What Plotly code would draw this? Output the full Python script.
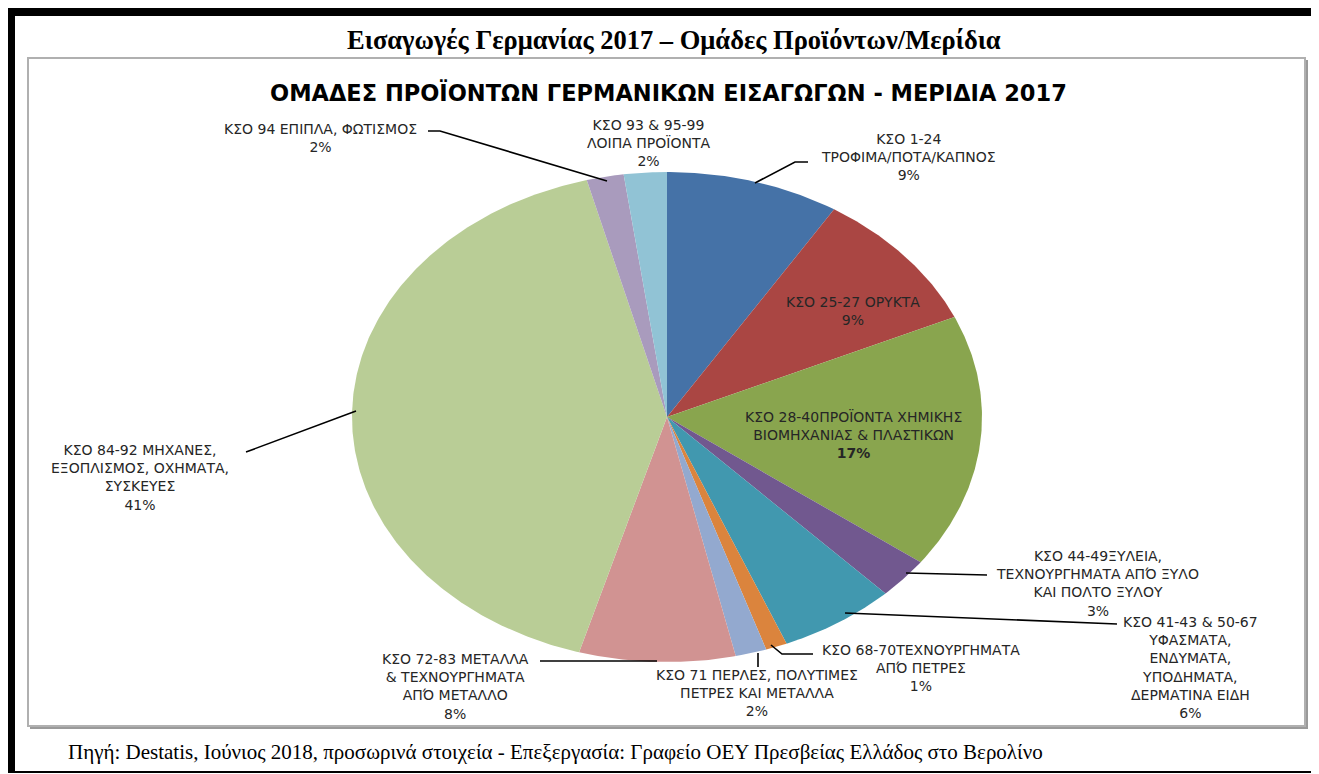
import math
import plotly.graph_objects as go

W, H = 1319, 774
OFF = 8          # page body margin added by the browser
FW, FH = W - OFF, H - OFF

# ---------------- data ----------------
categories = [
    "ΚΣΟ 1-24<br>ΤΡΟΦΙΜΑ/ΠΟΤΑ/ΚΑΠΝΟΣ",
    "ΚΣΟ 25-27 ΟΡΥΚΤΑ",
    "ΚΣΟ 28-40ΠΡΟΪΟΝΤΑ ΧΗΜΙΚΗΣ<br>ΒΙΟΜΗΧΑΝΙΑΣ & ΠΛΑΣΤΙΚΩΝ",
    "ΚΣΟ 44-49ΞΥΛΕΙΑ,<br>ΤΕΧΝΟΥΡΓΗΜΑΤΑ ΑΠΌ ΞΥΛΟ<br>ΚΑΙ ΠΟΛΤΟ ΞΥΛΟΥ",
    "ΚΣΟ 41-43 & 50-67<br>ΥΦΑΣΜΑΤΑ,<br>ΕΝΔΥΜΑΤΑ,<br>ΥΠΟΔΗΜΑΤΑ,<br>ΔΕΡΜΑΤΙΝΑ ΕΙΔΗ",
    "ΚΣΟ 68-70ΤΕΧΝΟΥΡΓΗΜΑΤΑ<br>ΑΠΌ ΠΕΤΡΕΣ",
    "ΚΣΟ 71 ΠΕΡΛΕΣ, ΠΟΛΥΤΙΜΕΣ<br>ΠΕΤΡΕΣ ΚΑΙ ΜΕΤΑΛΛΑ",
    "ΚΣΟ 72-83 ΜΕΤΑΛΛΑ<br>& ΤΕΧΝΟΥΡΓΗΜΑΤΑ<br>ΑΠΌ ΜΕΤΑΛΛΟ",
    "ΚΣΟ 84-92 ΜΗΧΑΝΕΣ,<br>ΕΞΟΠΛΙΣΜΟΣ, ΟΧΗΜΑΤΑ,<br>ΣΥΣΚΕΥΕΣ",
    "ΚΣΟ 94 ΕΠΙΠΛΑ, ΦΩΤΙΣΜΟΣ",
    "ΚΣΟ 93 & 95-99<br>ΛΟΙΠΑ ΠΡΟΪΟΝΤΑ",
]
values = [8.9, 9.4, 16.8, 2.7, 6.0, 1.1, 1.6, 8.0, 41.4, 1.9, 2.2]
colors = ["#4572A7", "#AA4643", "#89A54E", "#71588F", "#4198AF", "#DB843D",
          "#93A9CF", "#D19392", "#B9CD96", "#A99BBD", "#91C3D5"]

title_doc = "Εισαγωγές Γερμανίας 2017 – Ομάδες Προϊόντων/Μερίδια"
title_chart = "ΟΜΑΔΕΣ ΠΡΟΪΟΝΤΩΝ ΓΕΡΜΑΝΙΚΩΝ ΕΙΣΑΓΩΓΩΝ - ΜΕΡΙΔΙΑ 2017"
source_text = ("Πηγή: Destatis, Ιούνιος 2018, προσωρινά στοιχεία - Επεξεργασία: "
               "Γραφείο ΟΕΥ Πρεσβείας Ελλάδος στο Βερολίνο")

# ---------------- layout helpers (page pixels -> paper) ----------------
def px(x):
    return (x - OFF) / FW

def py(y):
    return 1 - (y - OFF) / FH

PIE_L, PIE_R, PIE_T, PIE_B = 352, 982, 172, 662

fig = go.Figure()

total = sum(values)
start = 0.0
for cat, v, c in zip(categories, values, colors):
    a0 = start / total * 2 * math.pi
    a1 = (start + v) / total * 2 * math.pi
    n = max(4, int((a1 - a0) / (math.pi / 360)))
    xs, ys = [0.0], [0.0]
    for i in range(n + 1):
        a = a0 + (a1 - a0) * i / n
        xs.append(math.sin(a))
        ys.append(math.cos(a))
    xs.append(0.0)
    ys.append(0.0)
    fig.add_trace(go.Scatter(
        x=xs, y=ys, mode="lines", fill="toself", fillcolor=c,
        line=dict(width=0, color=c), name=cat.replace("<br>", " "),
        hoverinfo="name", showlegend=False))
    start += v

fig.update_xaxes(range=[-1, 1], domain=[px(PIE_L), px(PIE_R)], visible=False,
                 fixedrange=True)
fig.update_yaxes(range=[-1, 1], domain=[py(PIE_B), py(PIE_T)], visible=False,
                 fixedrange=True)

# ---------------- labels ----------------
label_pos = [
    (908, 157), (853, 311), (853, 434), (1097, 583), (1190, 667),
    (921, 668), (757, 693), (455, 686), (140, 477), (320, 138), (648, 143),
]
ann = []
for i, (cat, v) in enumerate(zip(categories, values)):
    x, y = label_pos[i]
    f = dict(family="DejaVu Sans", size=14, color="#262626")
    pct = f"{round(v)}%"
    if i == 2:
        pct = f"<b>{pct}</b>"
    ann.append(dict(x=px(x), y=py(y), xref="paper", yref="paper",
                    text=f"{cat}<br>{pct}",
                    showarrow=False, align="center", xanchor="center",
                    yanchor="middle", font=f))

ann.append(dict(x=px(674), y=py(40), xref="paper", yref="paper",
                text=f"<b>{title_doc}</b>", showarrow=False,
                xanchor="center", yanchor="middle",
                font=dict(family="Liberation Serif", size=26.5, color="#000000")))
ann.append(dict(x=px(668), y=py(93), xref="paper", yref="paper",
                text=f"<b>{title_chart}</b>", showarrow=False,
                xanchor="center", yanchor="middle",
                font=dict(family="DejaVu Sans", size=22.5, color="#000000")))
ann.append(dict(x=px(66), y=py(752), xref="paper", yref="paper",
                text=source_text, showarrow=False,
                xanchor="left", yanchor="middle",
                font=dict(family="Liberation Serif", size=21, color="#000000")))

# ---------------- shapes ----------------
shapes = []
def rect(x0, y0, x1, y1, fill=None, line=None, lw=0):
    shapes.append(dict(type="rect", xref="paper", yref="paper",
                       x0=px(x0), x1=px(x1), y0=py(y1), y1=py(y0),
                       fillcolor=fill,
                       line=dict(width=lw, color=line or "rgba(0,0,0,0)"),
                       layer="below"))

rect(8, 8, W, 16, fill="#000000")
rect(8, 8, 15, 772, fill="#000000")
rect(8, 771, W, 773, fill="#000000")
rect(30, 60, 1308, 729, fill="#9a9a9a")
rect(28, 58, 1305, 726, fill="#ffffff", line="#b0b0b0", lw=2)

def path(points):
    d = "M " + " L ".join(f"{px(a)},{py(b)}" for a, b in points)
    shapes.append(dict(type="path", xref="paper", yref="paper", path=d,
                       line=dict(color="#000000", width=1.6)))

path([(755, 183), (795, 162), (808, 162)])
path([(906, 573), (987, 575)])
path([(845, 613), (1117, 624)])
path([(771, 645), (782, 654), (813, 654)])
path([(758, 653), (758, 667)])
path([(540, 661), (657, 661)])
path([(246, 452), (356, 411)])
path([(428, 131), (440, 131), (607, 181)])

fig.update_layout(
    width=FW, height=FH, margin=dict(l=0, r=0, t=0, b=0),
    paper_bgcolor="#ffffff", plot_bgcolor="rgba(0,0,0,0)",
    annotations=ann, shapes=shapes, showlegend=False,
)

fig.write_html("out.html")
